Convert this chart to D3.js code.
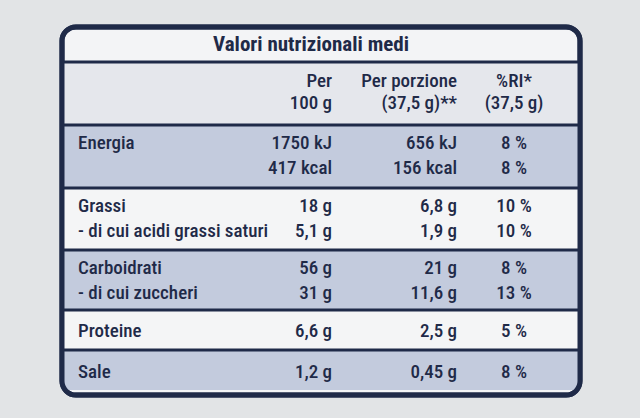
<!DOCTYPE html>
<html><head><meta charset="utf-8">
<script src="https://cdn.jsdelivr.net/npm/d3@7"></script>
<style>body{margin:0;background:#e4e6e8}</style></head>
<body><svg id="c" width="640" height="418"></svg>
<script>
const title = "Valori nutrizionali medi";
const headers = [["Per","100 g"],["Per porzione","(37,5 g)**"],["%RI*","(37,5 g)"]];
const groups = [
  {rows:["Energia",""], v1:["1750 kJ","417 kcal"], v2:["656 kJ","156 kcal"], v3:["8 %","8 %"]},
  {rows:["Grassi","- di cui acidi grassi saturi"], v1:["18 g","5,1 g"], v2:["6,8 g","1,9 g"], v3:["10 %","10 %"]},
  {rows:["Carboidrati","- di cui zuccheri"], v1:["56 g","31 g"], v2:["21 g","11,6 g"], v3:["8 %","13 %"]},
  {rows:["Proteine"], v1:["6,6 g"], v2:["2,5 g"], v3:["5 %"]},
  {rows:["Sale"], v1:["1,2 g"], v2:["0,45 g"], v3:["8 %"]}
];
const svg = d3.select("#c");
const ink = "#1f2a48", blue="#c3cbdd", pale="#f3f4f6";
const font = "'Liberation Sans Narrow','Roboto Condensed',Roboto,sans-serif";
const x = d3.scaleLinear().domain([0,1]).range([62,580]);
const bounds = [125,188,250,310,350,392];
svg.append("rect").attr("x",0).attr("y",0).attr("width",640).attr("height",418).attr("fill","#e2e4e6");
svg.append("rect").attr("x",x(0)).attr("y",27).attr("width",x(1)-x(0)).attr("height",368).attr("rx",14).attr("fill",pale).attr("stroke",ink).attr("stroke-width",5);
svg.append("rect").attr("x",x(0)+2).attr("y",62).attr("width",x(1)-x(0)-4).attr("height",63).attr("fill","#e5e7ec");
groups.forEach((g,i)=>{
  svg.append("rect").attr("x",x(0)+2).attr("y",bounds[i]).attr("width",x(1)-x(0)-4).attr("height",bounds[i+1]-bounds[i]-(i==4?2:0))
    .attr("fill", i%2==0?blue:"#f4f5f6");
  svg.append("line").attr("x1",x(0)).attr("x2",x(1)).attr("y1",bounds[i]).attr("y2",bounds[i]).attr("stroke",ink).attr("stroke-width",3);
});
svg.append("line").attr("x1",x(0)).attr("x2",x(1)).attr("y1",62).attr("y2",62).attr("stroke",ink).attr("stroke-width",3);
svg.append("rect").attr("x",x(0)).attr("y",27).attr("width",x(1)-x(0)).attr("height",368).attr("rx",14).attr("fill","none").attr("stroke",ink).attr("stroke-width",5);
const T=(t,xx,yy,anchor,w,s)=>svg.append("text").attr("x",xx).attr("y",yy).attr("text-anchor",anchor||"start")
  .attr("font-family",font).attr("font-size",s||19).attr("font-weight",w||"500").attr("fill",ink).text(t);
T(title,x(0.5)-10,51,"middle","bold",21);
const cx=[332,457,514];
headers.forEach((h,j)=>h.forEach((t,k)=>T(t,cx[j],87+k*22,j==2?"middle":"end")));
groups.forEach((g,i)=>{
  const n=g.rows.length, top=bounds[i], h=bounds[i+1]-bounds[i];
  g.rows.forEach((r,k)=>{
    const yy = n==2 ? top+24+k*25 : top+h/2+7;
    T(r,78,yy);
    T(g.v1[k],cx[0],yy,"end"); T(g.v2[k],cx[1],yy,"end"); T(g.v3[k],cx[2],yy,"middle");
  });
});
</script></body></html>
